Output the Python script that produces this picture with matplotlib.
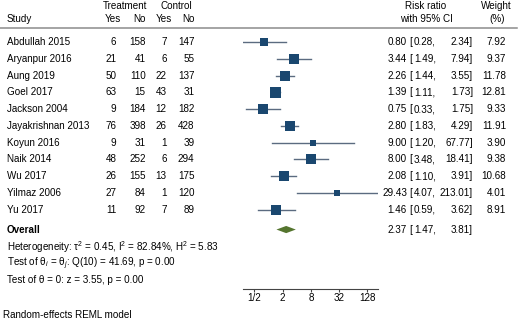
import matplotlib
matplotlib.use("Agg")
import matplotlib.pyplot as plt
from matplotlib.transforms import blended_transform_factory
from matplotlib.lines import Line2D

plt.rcParams['font.family'] = ['Liberation Sans', 'DejaVu Sans']
plt.rcParams['mathtext.fontset'] = 'custom'
plt.rcParams['mathtext.rm'] = 'Liberation Sans'
plt.rcParams['mathtext.it'] = 'Liberation Sans:italic'
plt.rcParams['mathtext.bf'] = 'Liberation Sans:bold'

# ---- data ----
studies = ["Abdullah 2015", "Aryanpur 2016", "Aung 2019", "Goel 2017", "Jackson 2004",
           "Jayakrishnan 2013", "Koyun 2016", "Naik 2014", "Wu 2017", "Yilmaz 2006", "Yu 2017"]
treat_yes = [6, 21, 50, 63, 9, 76, 9, 48, 26, 27, 11]
treat_no = [158, 41, 110, 15, 184, 398, 31, 252, 155, 84, 92]
ctrl_yes = [7, 6, 22, 43, 12, 26, 1, 6, 13, 1, 7]
ctrl_no = [147, 55, 137, 31, 182, 428, 39, 294, 175, 120, 89]
rr = [0.80, 3.44, 2.26, 1.39, 0.75, 2.80, 9.00, 8.00, 2.08, 29.43, 1.46]
ci_lo = [0.28, 1.49, 1.44, 1.11, 0.33, 1.83, 1.20, 3.48, 1.10, 4.07, 0.59]
ci_hi = [2.34, 7.94, 3.55, 1.73, 1.75, 4.29, 67.77, 18.41, 3.91, 213.01, 3.62]
weights = [7.92, 9.37, 11.78, 12.81, 9.33, 11.91, 3.90, 9.38, 10.68, 4.01, 8.91]
overall_rr, overall_lo, overall_hi = 2.37, 1.47, 3.81
tick_vals = [0.5, 2, 8, 32, 128]
tick_labels = ["1/2", "2", "8", "32", "128"]
het_text = "Heterogeneity: τ$^2$ = 0.45, I$^2$ = 82.84%, H$^2$ = 5.83"
test1_text = "Test of θ$_i$ = θ$_j$: Q(10) = 41.69, p = 0.00"
test2_text = "Test of θ = 0: z = 3.55, p = 0.00"
model_text = "Random-effects REML model"

# ---- layout ----
W, H = 520, 322
ROW0, ROWH = 42.0, 16.76
FS = 7.1
NAVY = "#1a476f"
GREEN = "#55752f"
CICOL = "#5b6b80"


def fx(px):
    return px / W


fig = plt.figure(figsize=(W / 100, H / 100), dpi=100)
ax_l, ax_r = 242.7, 377.7
ax = fig.add_axes([fx(ax_l), 0, fx(ax_r - ax_l), 1])
ax.set_xscale('log', base=2)
ax.set_xlim(min(ci_lo), max(ci_hi))
ax.set_ylim((H - ROW0) / ROWH, -ROW0 / ROWH)
ax.axis('off')

tr = blended_transform_factory(fig.transFigure, ax.transData)

n = len(studies)
y_overall = 11.19
y_het, y_t1, y_t2 = 12.21, 13.24, 14.22
y_axis = 14.71
y_model = 16.28

# headers
kw = dict(transform=tr, fontsize=FS, va='center')
fig.text(fx(125), -2.15, "Treatment", ha='center', **kw)
fig.text(fx(176), -2.15, "Control", ha='center', **kw)
fig.text(fx(6.7), -1.35, "Study", ha='left', **kw)
fig.text(fx(120.7), -1.35, "Yes", ha='right', **kw)
fig.text(fx(145.7), -1.35, "No", ha='right', **kw)
fig.text(fx(172.3), -1.35, "Yes", ha='right', **kw)
fig.text(fx(194.3), -1.35, "No", ha='right', **kw)
fig.text(fx(426), -2.15, "Risk ratio", ha='center', **kw)
fig.text(fx(426), -1.35, "with 95% CI", ha='center', **kw)
fig.text(fx(496), -2.15, "Weight", ha='center', **kw)
fig.text(fx(497), -1.35, "(%)", ha='center', **kw)
fig.add_artist(Line2D([0, fx(517)], [-0.82, -0.82], transform=tr,
                      color='#8c8c8c', lw=1.1))


def ci_texts(y, r, lo, hi):
    fig.text(fx(407), y, f"{r:.2f}", ha='right', **kw)
    fig.text(fx(409.3), y, "[", ha='left', **kw)
    fig.text(fx(414), y, f"{lo:.2f},", ha='left', **kw)
    fig.text(fx(473), y, f"{hi:.2f}]", ha='right', **kw)


# study rows
wmax = max(weights)
for i in range(n):
    fig.text(fx(6.7), i, studies[i], ha='left', **kw)
    fig.text(fx(116.3), i, str(treat_yes[i]), ha='right', **kw)
    fig.text(fx(145.7), i, str(treat_no[i]), ha='right', **kw)
    fig.text(fx(166.7), i, str(ctrl_yes[i]), ha='right', **kw)
    fig.text(fx(194.3), i, str(ctrl_no[i]), ha='right', **kw)
    ci_texts(i, rr[i], ci_lo[i], ci_hi[i])
    fig.text(fx(506), i, f"{weights[i]:.2f}", ha='right', **kw)
    ax.plot([ci_lo[i], ci_hi[i]], [i, i], color=CICOL, lw=1.0, zorder=2)
    side_px = 11.0 * (weights[i] / wmax) ** 0.5
    ax.plot([rr[i]], [i], marker='s', linestyle='none', color=NAVY,
            markersize=side_px * 0.72, markeredgewidth=0, zorder=3)

# overall
fig.text(fx(6.7), y_overall, "Overall", ha='left', fontweight='bold', **kw)
ci_texts(y_overall, overall_rr, overall_lo, overall_hi)
dh = 3.6 / ROWH
ax.fill([overall_lo, overall_rr, overall_hi, overall_rr],
        [y_overall, y_overall - dh, y_overall, y_overall + dh],
        color=GREEN, lw=0, zorder=3)

fig.text(fx(6.7), y_het, het_text, ha='left', **kw)
fig.text(fx(6.7), y_t1, test1_text, ha='left', **kw)
fig.text(fx(6.7), y_t2, test2_text, ha='left', **kw)
fig.text(fx(3.3), y_model, model_text, ha='left', **kw)

# x axis
axis_frac = 1 - (ROW0 + y_axis * ROWH) / H
axx = fig.add_axes([fx(ax_l), axis_frac, fx(ax_r - ax_l), 1e-4], sharex=ax)
for s in ['top', 'left', 'right']:
    axx.spines[s].set_visible(False)
axx.spines['bottom'].set_color('#444444')
axx.spines['bottom'].set_linewidth(0.8)
axx.set_yticks([])
axx.set_xticks(tick_vals)
axx.set_xticklabels(tick_labels)
axx.xaxis.set_minor_locator(matplotlib.ticker.NullLocator())
axx.tick_params(axis='x', length=2.5, width=0.8, color='#444444', pad=1.0,
                labelsize=FS)
axx.patch.set_visible(False)

fig.savefig("out.png", dpi=100)
